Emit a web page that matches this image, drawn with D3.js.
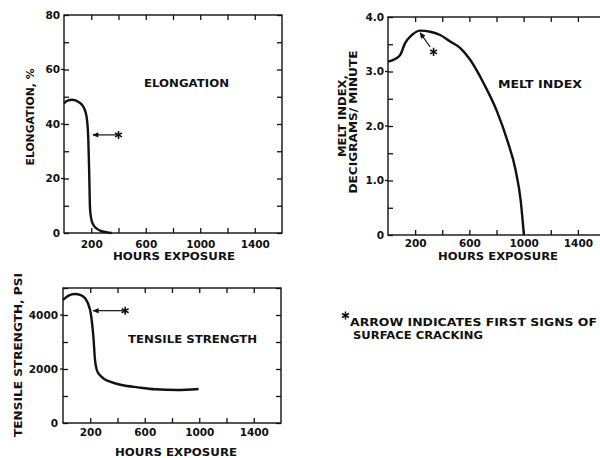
<!DOCTYPE html>
<html>
<head>
<meta charset="utf-8">
<script src="https://cdn.jsdelivr.net/npm/d3@7"></script>
<style>
  body { margin: 0; background: #fff; }
  svg { display: block; }
</style>
</head>
<body>
<script>
// hours of exposure, shared by the three panels
const xTicks = [200, 400, 600, 800, 1000, 1200, 1400];
const xLabels = [200, 600, 1000, 1400];

// elongation, %
const elongHours = [0, 25, 60, 110, 140, 160, 170, 178, 185, 191, 200, 215, 240, 270, 310, 350];
const elongPct = [47.6, 48.6, 48.9, 48, 46.5, 44, 41, 35, 22, 9, 5.2, 3, 1.6, 0.8, 0.3, 0];
const elongTicks = [0, 10, 20, 30, 40, 50, 60, 70, 80];
const elongLabels = [0, 20, 40, 60, 80];

// melt index, decigrams/minute
const meltHours = [0, 45, 89, 126, 176, 237, 311, 385, 459, 533, 607, 706, 805, 879, 941, 978, 1002];
const meltIndex = [3.18, 3.22, 3.30, 3.52, 3.67, 3.75, 3.73, 3.67, 3.55, 3.43, 3.21, 2.78, 2.26, 1.74, 1.19, 0.64, 0];
const meltTicks = [0, 0.5, 1, 1.5, 2, 2.5, 3, 3.5, 4];
const meltLabels = [0, 1, 2, 3, 4];

// tensile strength, psi
const tensileHours = [0, 40, 88, 130, 162, 199, 212, 223, 235, 248, 270, 296, 350, 432, 550, 676, 836, 995];
const tensilePsi = [4555, 4720, 4780, 4740, 4620, 4185, 3750, 3195, 2330, 1963, 1780, 1655, 1520, 1407, 1320, 1248, 1222, 1259];
const tensileTicks = [0, 1000, 2000, 3000, 4000, 5000];
const tensileLabels = [0, 2000, 4000];

// first signs of surface cracking: [arrow tip, arrow tail, star] in data units
const elongArrow = [[212, 36], [400, 36], [400, 36]];
const meltArrow = [[237, 3.71], [311, 3.45], [336, 3.36]];
const tensileArrow = [[222, 4160], [440, 4160], [456, 4160]];

const FONT = "'DejaVu Sans', sans-serif";

const svg = d3.select("body").append("svg")
    .attr("width", 600)
    .attr("height", 458);

svg.append("defs").append("marker")
    .attr("id", "head")
    .attr("viewBox", "0 0 10 10")
    .attr("refX", 9).attr("refY", 5)
    .attr("markerWidth", 7).attr("markerHeight", 6)
    .attr("markerUnits", "userSpaceOnUse")
    .attr("orient", "auto-start-reverse")
    .append("path")
    .attr("d", "M10,5L0,0.5L0,9.5Z")
    .attr("fill", "#111");

function text(x, y, str, len, size, rotate) {
    const t = svg.append("text")
        .attr("font-family", FONT)
        .attr("font-weight", "bold")
        .attr("font-size", size)
        .attr("fill", "#111")
        .attr("textLength", len)
        .attr("lengthAdjust", "spacingAndGlyphs")
        .text(str);
    if (rotate) {
        t.attr("text-anchor", "middle")
         .attr("transform", `translate(${x},${y}) rotate(-90)`);
    } else {
        t.attr("x", x).attr("y", y);
    }
    return t;
}

function drawPanel(p) {
    const x = d3.scaleLinear().domain([0, 1600]).range([p.left, p.right]);
    const y = d3.scaleLinear().domain([0, p.yMax]).range([p.bottom, p.top]);
    const g = svg.append("g");

    const style = a => {
        a.select(".domain").remove();
        a.selectAll("line").attr("stroke", "#111").attr("stroke-width", 1.3);
        a.selectAll("text")
            .attr("font-family", FONT)
            .attr("font-weight", "bold")
            .attr("font-size", 10.5)
            .attr("fill", "#111");
    };

    g.append("g")
        .attr("transform", `translate(0,${p.bottom})`)
        .call(d3.axisBottom(x).tickValues(xTicks).tickSize(-5).tickPadding(p.xPad)
            .tickFormat(d => xLabels.includes(d) ? d : ""))
        .call(style);
    g.append("g")
        .attr("transform", `translate(0,${p.top})`)
        .call(d3.axisTop(x).tickValues(xTicks).tickSize(-5).tickFormat(""))
        .call(style);
    g.append("g")
        .attr("transform", `translate(${p.left},0)`)
        .call(d3.axisLeft(y).tickValues(p.yTicks).tickSize(-5).tickPadding(p.yPad)
            .tickFormat(d => p.yLabels.includes(d) ? p.fmt(d) : ""))
        .call(style);
    g.append("g")
        .attr("transform", `translate(${p.right},0)`)
        .call(d3.axisRight(y).tickValues(p.yTicks).tickSize(-5).tickFormat(""))
        .call(style);

    // short outward dash next to the labelled values
    g.selectAll(".dash")
        .data(p.yLabels.filter(d => d > 0 && d < p.yMax))
        .join("line")
        .attr("x1", p.left - 3).attr("x2", p.left)
        .attr("y1", d => y(d)).attr("y2", d => y(d))
        .attr("stroke", "#111").attr("stroke-width", 1.3);

    g.append("rect")
        .attr("x", p.left).attr("y", p.top)
        .attr("width", p.right - p.left).attr("height", p.bottom - p.top)
        .attr("fill", "none").attr("stroke", "#111").attr("stroke-width", 1.4);

    const line = d3.line()
        .x(d => x(d[0])).y(d => y(d[1]))
        .curve(d3.curveMonotoneX);
    g.append("path")
        .datum(d3.zip(p.hours, p.values))
        .attr("d", line)
        .attr("fill", "none")
        .attr("stroke", "#111")
        .attr("stroke-width", 2.4)
        .attr("stroke-linejoin", "round");

    const [tip, tail, star] = p.arrow;
    g.append("line")
        .attr("x1", x(tip[0])).attr("y1", y(tip[1]))
        .attr("x2", x(tail[0])).attr("y2", y(tail[1]))
        .attr("stroke", "#111").attr("stroke-width", 1.2)
        .attr("marker-start", "url(#head)");
    g.append("path")
        .attr("transform", `translate(${x(star[0])},${y(star[1])})`)
        .attr("d", d3.symbol(d3.symbolAsterisk, 45)())
        .attr("fill", "none").attr("stroke", "#111").attr("stroke-width", 1.6);
}

drawPanel({
    left: 64, right: 282, top: 15, bottom: 233, yMax: 80,
    yTicks: elongTicks, yLabels: elongLabels, fmt: d => d,
    xPad: 8, yPad: 4,
    hours: elongHours, values: elongPct, arrow: elongArrow
});
drawPanel({
    left: 388, right: 605, top: 17, bottom: 235, yMax: 4,
    yTicks: meltTicks, yLabels: meltLabels, fmt: d => d === 0 ? "0" : d3.format(".1f")(d),
    xPad: 5, yPad: 4,
    hours: meltHours, values: meltIndex, arrow: meltArrow
});
drawPanel({
    left: 63, right: 281, top: 288, bottom: 423, yMax: 5000,
    yTicks: tensileTicks, yLabels: tensileLabels, fmt: d => d,
    xPad: 6, yPad: 5,
    hours: tensileHours, values: tensilePsi, arrow: tensileArrow
});

// panel titles
text(144, 87, "ELONGATION", 85, 10);
text(498, 88, "MELT INDEX", 84, 10);
text(128, 343, "TENSILE STRENGTH", 129, 11);

// axis titles
text(113, 260, "HOURS EXPOSURE", 122, 10.5);
text(438, 260, "HOURS EXPOSURE", 120, 10.5);
text(115, 456, "HOURS EXPOSURE", 122, 10.5);
text(34, 117, "ELONGATION, %", 97, 10, true);
text(22, 355, "TENSILE STRENGTH, PSI", 164, 10.5, true);
text(346, 116, "MELT INDEX,", 82, 10, true);
text(357, 122, "DECIGRAMS/ MINUTE", 143, 10, true);

// footnote
svg.append("path")
    .attr("transform", "translate(345.5,315.5)")
    .attr("d", d3.symbol(d3.symbolAsterisk, 45)())
    .attr("fill", "none").attr("stroke", "#111").attr("stroke-width", 1.5);
text(350, 326, "ARROW INDICATES FIRST SIGNS OF", 247, 10);
text(353, 339, "SURFACE CRACKING", 130, 10);
</script>
</body>
</html>
